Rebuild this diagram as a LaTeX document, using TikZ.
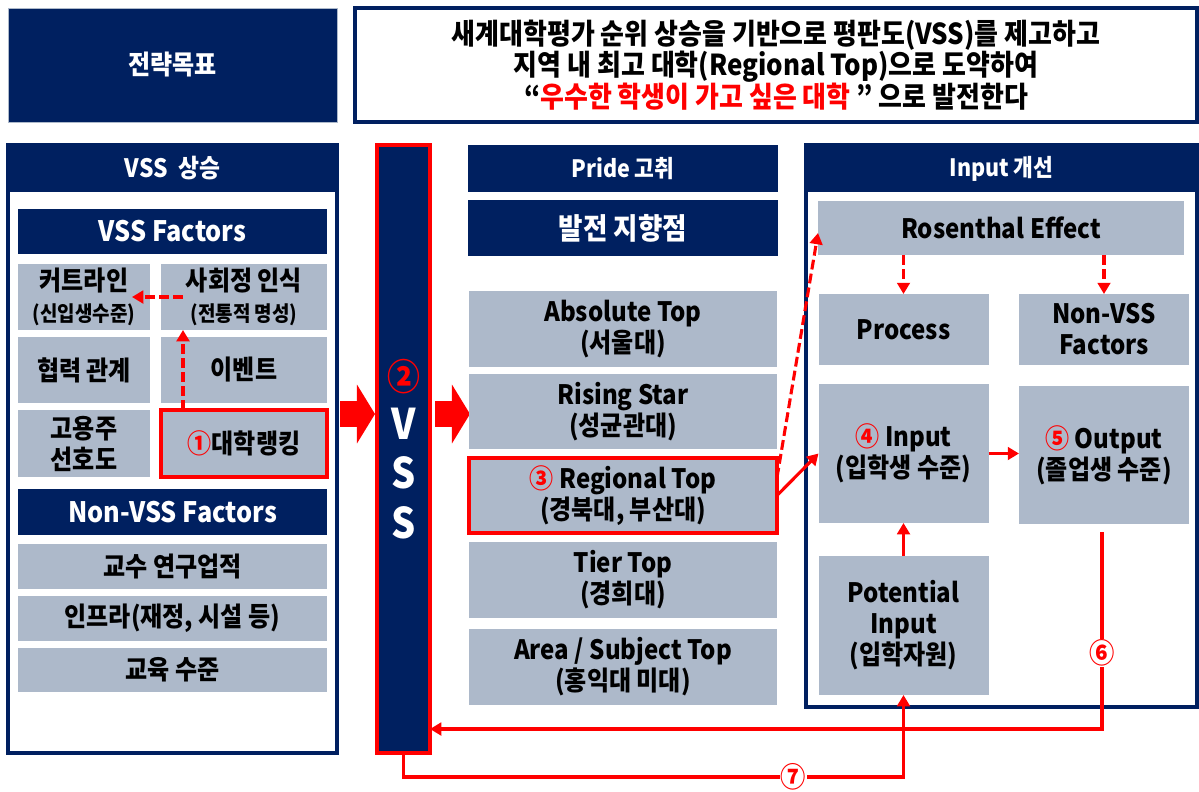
\documentclass[tikz,border=0pt]{standalone}
\usepackage{fontspec}
\setmainfont{Noto Sans CJK KR}[FakeStretch=0.9]
\usepackage{xcolor}
\definecolor{navy}{HTML}{002060}
\definecolor{slate}{HTML}{ADB9CA}
\definecolor{alert}{HTML}{FF0000}
\usetikzlibrary{arrows.meta, positioning, calc}
\newcommand{\fsz}[2]{\fontsize{#1}{#2}\selectfont}

\begin{document}
\begin{tikzpicture}[x=0.025cm, y=-0.025cm, >=Stealth,
  wh/.style 2 args={minimum width=#1*0.025cm, minimum height=#2*0.025cm},
  base/.style={inner sep=0pt, outer sep=0pt, align=center},
  navybar/.style={base, fill=navy, text=white},
  cell/.style={base, fill=slate, text=black, font=\bfseries\fsz{19}{22}},
  hot/.style={draw=alert, line width=2.2pt},
  frame/.style={base, draw=navy, fill=white, line width=2.2pt},
  link/.style={draw=alert, line width=2.2pt, -{Triangle[length=8pt,width=9pt]}},
  dlink/.style={link, dash pattern=on 7pt off 3pt},
  block/.style={draw=alert, line width=0.65cm, -{Triangle[length=0.45cm,width=1.45cm]}},
  tag/.style={fill=white, inner sep=0.5pt, text=alert, font=\bfseries\fsz{20}{20}}]

  \useasboundingbox (0,0) rectangle (1199,791);

  % goal line
  \node[navybar, draw=slate, line width=0.6pt, wh={329}{114},
        font=\bfseries\fsz{19}{22}] (goal) at (172.5,65) {전략목표};
  \node[frame, wh={842}{114}, font=\bfseries\fsz{20.5}{22.5}] (vision) at (776,65)
    {새계대학평가 순위 상승을 기반으로 평판도(VSS)를 제고하고\\
     지역 내 최고 대학(Regional Top)으로 도약하여\\
     “{\color{alert}우수한 학생이 가고 싶은 대학} " 으로 발전한다};

  % left panel
  \node[frame, wh={329}{608}] (lpanel) at (172.5,449) {};
  \node[navybar, wh={329}{47}, font=\bfseries\fsz{18}{20}] (lhead) at (172.5,168.5) {VSS\ \ 상승};
  \node[navybar, wh={309}{45}, font=\bfseries\fsz{20}{22}] (vssf) at (172.5,231.5) {VSS Factors};
  \node[cell, wh={132}{66}] (cut) at (84,297)
    {커트라인\\{\fsz{15}{17}(신입생수준)}};
  \node[cell, wh={166}{66}] (social) at (244,297)
    {사회정 인식\\{\fsz{15}{17}(전통적 명성)}};
  \node[cell, wh={132}{66}] (coop) at (84,370) {협력 관계};
  \node[cell, wh={166}{66}] (event) at (244,370) {이벤트};
  \node[cell, wh={132}{67}] (employer) at (84,443.5) {고용주\\선호도};
  \node[cell, hot, wh={166}{67}] (rank) at (244,443.5) {{\color{alert}①}대학랭킹};
  \node[navybar, wh={309}{46}, font=\bfseries\fsz{20}{22}] (nonf) at (172.5,512) {Non-VSS Factors};
  \node[cell, wh={309}{45}] (prof) at (172.5,566.5) {교수 연구업적};
  \node[cell, wh={309}{45}] (infra) at (172.5,618.5) {인프라(재정, 시설 등)};
  \node[cell, wh={309}{44}] (edu) at (172.5,670) {교육 수준};

  \draw[dlink] ($(rank.north west)+(22,0)$) -- ($(social.south west)+(22,0)$);
  \draw[dlink] ($(social.west)+(22,0)$) -- ($(cut.east)+(-18,0)$);

  % VSS column
  \node[base, fill=navy, hot, wh={53}{608}, text=white,
        font=\bfseries\fsz{30}{35}] (vss) at (403.5,449)
    {{\color{alert}\fsz{26}{35}②}\\V\\S\\S};
  \draw[block] ($(lpanel.east)+(3,-35)$) -- ($(vss.west)+(-2,-35)$);
  \draw[block] ($(vss.east)+(5,-35)$) -- ($(vss.east)+(40,-35)$);

  % middle column
  \node[navybar, wh={310}{47}, font=\bfseries\fsz{17}{20}] (pride) at (623,168.5) {Pride 고취};
  \node[navybar, wh={310}{56}, font=\bfseries\fsz{21}{24}] (aim) at (623,228) {발전 지향점};
  \node[cell, wh={308}{76}] (abs) at (623,329) {Absolute Top\\(서울대)};
  \node[cell, wh={308}{75}] (rising) at (623,411.5) {Rising Star\\(성균관대)};
  \node[cell, hot, wh={308}{75}] (regional) at (623,495.5)
    {{\color{alert}③}\ Regional Top\\(경북대, 부산대)};
  \node[cell, wh={308}{76}] (tier) at (623,580) {Tier Top\\(경희대)};
  \node[cell, wh={308}{76}] (area) at (623,667) {Area / Subject Top\\(홍익대 미대)};

  % right panel
  \node[frame, wh={391}{562}] (rpanel) at (1001.5,426) {};
  \node[navybar, wh={391}{47}, font=\bfseries\fsz{17}{20}] (rhead) at (1001.5,168.5) {Input 개선};
  \node[cell, wh={366}{54}] (rosen) at (1001,228) {Rosenthal Effect};
  \node[cell, wh={170}{71}] (process) at (903.5,329.5) {Process};
  \node[cell, wh={170}{71}] (nonvss) at (1104,329.5) {Non-VSS\\Factors};
  \node[cell, wh={170}{139}] (input) at (903.5,453.5)
    {{\color{alert}④}\ Input\\(입학생 수준)};
  \node[cell, wh={170}{138}] (output) at (1104,455)
    {{\color{alert}⑤}\ Output\\(졸업생 수준)};
  \node[cell, wh={170}{139}] (potential) at (903.5,625.5)
    {Potential\\Input\\(입학자원)};

  \draw[dlink] (process.north |- rosen.south) -- (process.north);
  \draw[dlink] (nonvss.north |- rosen.south) -- (nonvss.north);
  \draw[dlink] ($(regional.east)+(0,-18)$) -- ($(rosen.west)+(0,5)$);
  \draw[link] (regional.east) -- (input.west);
  \draw[link] (input.east) -- (input.east -| output.west);
  \draw[link] (potential.north) -- (input.south);

  % feedback loops
  \draw[link] ($(output.south)+(-2,8)$) |- node[tag, pos=0.307] {⑥}
    ($(vss.east)+(0,280)$);
  \draw[link] (vss.south) -- ++(0,24) -| node[tag, pos=0.39] {⑦} (potential.south);

\end{tikzpicture}
\end{document}
